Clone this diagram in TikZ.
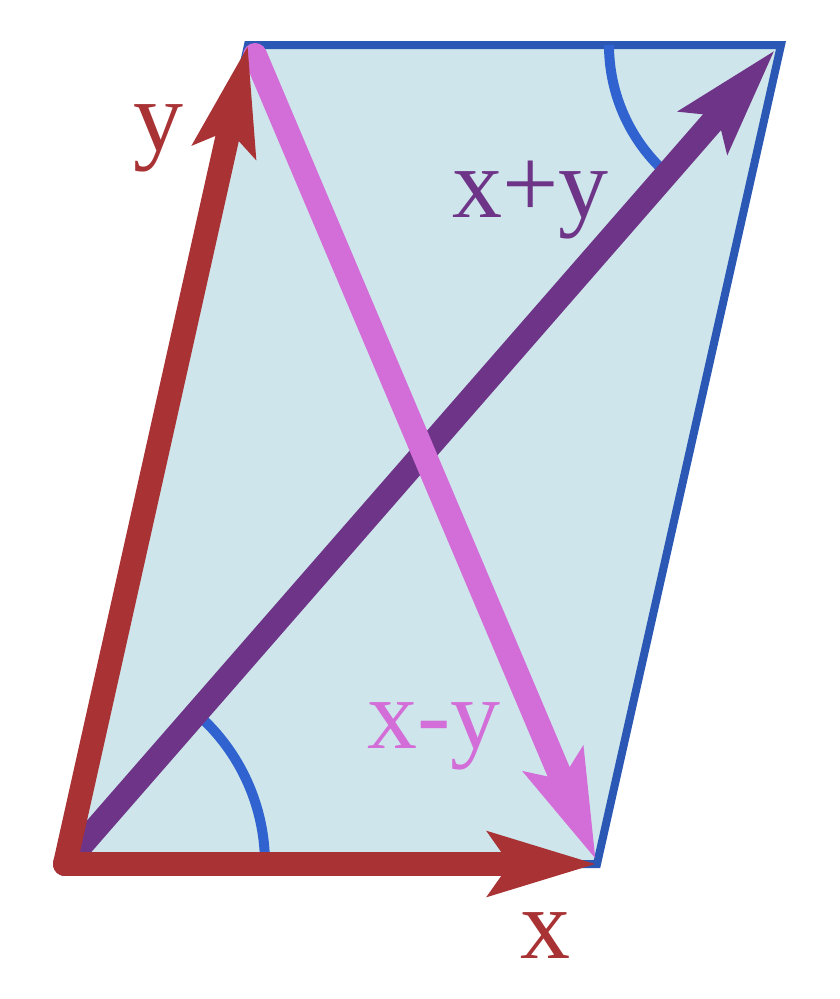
\documentclass[tikz,border=0pt]{standalone}
\usepackage{fontspec}
\setmainfont{Liberation Serif}
\usetikzlibrary{arrows.meta}
\definecolor{pfill}{HTML}{CEE6EB}
\definecolor{pedge}{HTML}{2B58B5}
\definecolor{parc}{HTML}{3063D0}
\definecolor{vred}{HTML}{A83234}
\definecolor{vpurple}{HTML}{6E3488}
\definecolor{vpink}{HTML}{D36DD8}
\tikzset{
  vec/.style={line width=24pt, line cap=round, line join=round,
    -{Stealth[length=107pt, width=62pt, inset=20pt]}},
  lbl/.style={inner sep=0pt, anchor=base west, font=\fontsize{100}{120}\selectfont},
  anglearc/.style={draw=parc, line width=10pt},
}
\begin{document}
\begin{tikzpicture}[x=1pt,y=-1pt]
\useasboundingbox[fill=white] (0,0) rectangle (840,999);
\coordinate (O) at (65,864);
\coordinate (X) at (597,864);
\coordinate (Y) at (248,45);
\coordinate (S) at (781,45);
\coordinate (St) at (775,50);
\coordinate (Yp) at (255,55);
\coordinate (Xt) at (596,860);
% parallelogram
\filldraw[fill=pfill, draw=pedge, line width=8pt, line join=miter] (O) -- (X) -- (S) -- (Y) -- cycle;
% angle arcs
\draw[anglearc] (O) ++(200,0) arc[start angle=0, end angle=-48.9, radius=200];
\draw[anglearc] (S) ++(-172,0) arc[start angle=180, end angle=131.1, radius=172];
% vectors
\draw[vec, draw=vpurple, fill=vpurple] (O) -- (St);
\draw[vec, draw=vpink, fill=vpink] (Yp) -- (Xt);
\draw[vec, draw=vred, fill=vred] (O) -- (Y);
\draw[vec, draw=vred, fill=vred] (O) -- (X);
% labels
\node[lbl, text=vred] (ly) at (133,150) {y};
\node[lbl, text=vpurple] (lsum) at (452,217) {x+y};
\node[lbl, text=vpink] (ldiff) at (367,748) {x-y};
\node[lbl, text=vred] (lx) at (520,958) {x};
\end{tikzpicture}
\end{document}
